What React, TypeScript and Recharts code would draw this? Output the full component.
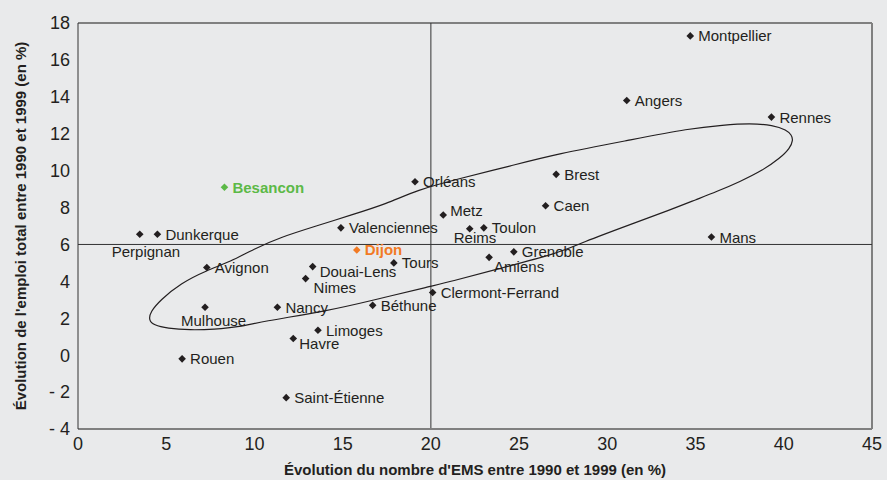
import { ScatterChart, Scatter, XAxis, YAxis, ReferenceLine } from 'recharts'

document.body.style.margin = '0'

const FONT = '"Liberation Sans", Arial, sans-serif'

// villes, croissance des EMS (x) et de l'emploi total (y), 1990-1999, en %
const cities = [
  'Montpellier', 'Angers', 'Rennes', 'Brest', 'Caen', 'Mans', 'Orléans', 'Metz', 'Toulon', 'Reims',
  'Grenoble', 'Amiens', 'Valenciennes', 'Besancon', 'Dijon', 'Tours', 'Perpignan', 'Dunkerque',
  'Avignon', 'Douai-Lens', 'Nimes', 'Clermont-Ferrand', 'Béthune', 'Nancy', 'Mulhouse', 'Limoges',
  'Havre', 'Rouen', 'Saint-Étienne',
]
const emsGrowth = [
  34.7, 31.1, 39.3, 27.1, 26.5, 35.9, 19.1, 20.7, 23.0, 22.2,
  24.7, 23.3, 14.9, 8.3, 15.8, 17.9, 3.5, 4.5,
  7.3, 13.3, 12.9, 20.1, 16.7, 11.3, 7.2, 13.6,
  12.2, 5.9, 11.8,
]
const jobGrowth = [
  17.3, 13.8, 12.9, 9.8, 8.1, 6.4, 9.4, 7.6, 6.9, 6.85,
  5.6, 5.3, 6.9, 9.1, 5.7, 5.0, 6.55, 6.55,
  4.75, 4.8, 4.15, 3.4, 2.7, 2.6, 2.6, 1.35,
  0.9, -0.2, -2.3,
]

// contour de l'ellipse
const ovalX = [
  4.01, 4.1, 4.67, 5.8, 7.32, 8.64, 9.95, 11.5, 13.5, 15.5, 17.5, 19.2, 21.66, 24.5, 27.13, 31.28,
  34.68, 36.57, 38.08, 39.4, 40.16, 40.44, 40.53, 40.35, 39.78, 38.83, 37.51, 36.19, 35.06, 33.5,
  31.5, 28.45, 27.3, 23.55, 21.1, 20.0, 16.68, 14.2, 10.33, 9.2, 7.69, 6.37, 5.05, 4.29,
]
const ovalY = [
  1.9, 2.35, 2.99, 3.89, 4.61, 5.06, 5.75, 6.4, 7.0, 7.6, 8.2, 8.95, 9.58, 10.25, 10.9, 11.66,
  12.29, 12.47, 12.56, 12.47, 12.2, 11.93, 11.66, 11.21, 10.67, 10.03, 9.4, 8.86, 8.44, 7.85,
  7.15, 6.06, 5.55, 4.61, 3.98, 3.74, 2.97, 2.41, 1.81, 1.54, 1.4, 1.36, 1.45, 1.63,
]

const xTicks = [0, 5, 10, 15, 20, 25, 30, 35, 40, 45]
const yTicks = [-4, -2, 0, 2, 4, 6, 8, 10, 12, 14, 16, 18]

const points = cities.map((name, i) => ({ name, x: emsGrowth[i], y: jobGrowth[i] }))
const oval = ovalX.map((x, i) => ({ x, y: ovalY[i] }))

const highlight: Record<string, string> = { Besancon: '#5cb947', Dijon: '#f27a24' }
const labelPos: Record<string, [number, number]> = {
  Perpignan: [-28, 17],
  Reims: [-16, 9],
  Mulhouse: [-24, 13],
  Nimes: [8, 9],
  'Douai-Lens': [7, 5],
  Havre: [6, 5],
  Amiens: [5, 9],
  Metz: [7, -4],
}

function CityMark(props: any) {
  const { cx, cy, payload } = props
  const color = highlight[payload.name] ?? '#231f20'
  const [dx, dy] = labelPos[payload.name] ?? [8, 0]
  const r = 3.8
  return (
    <g>
      <path d={`M${cx},${cy - r}L${cx + r},${cy}L${cx},${cy + r}L${cx - r},${cy}Z`} fill={color} />
      <text
        x={cx + dx}
        y={cy + dy}
        dominantBaseline="central"
        fontSize={15}
        fontFamily={FONT}
        fontWeight={highlight[payload.name] ? 'bold' : 'normal'}
        fill={color}
      >
        {payload.name}
      </text>
    </g>
  )
}

const tickStyle = { fontSize: 18, fill: '#231f20', fontFamily: FONT }
const titleStyle = { fontSize: 15, fontWeight: 'bold', fill: '#231f20', fontFamily: FONT }

export default function App() {
  return (
    <div style={{ width: 887, height: 480, background: '#e9eaeb' }}>
      <ScatterChart width={887} height={480} margin={{ top: 23, right: 15, bottom: 0, left: 0 }}>
        <XAxis
          type="number"
          dataKey="x"
          domain={[0, 45]}
          ticks={xTicks}
          height={51}
          tickLine={false}
          tick={tickStyle}
          axisLine={{ stroke: '#808080', strokeWidth: 2 }}
          label={{
            value: "Évolution du nombre d'EMS entre 1990 et 1999 (en %)",
            position: 'insideBottom',
            offset: 5,
            style: titleStyle,
          }}
        />
        <YAxis
          type="number"
          dataKey="y"
          domain={[-4, 18]}
          ticks={yTicks}
          width={78}
          tickLine={false}
          tick={tickStyle}
          tickFormatter={(v: number) => (v < 0 ? `- ${-v}` : `${v}`)}
          axisLine={{ stroke: '#333333', strokeWidth: 1 }}
          label={{
            value: "Évolution de l'emploi total entre 1990 et 1999 (en %)",
            angle: -90,
            position: 'insideLeft',
            offset: 21,
            style: { ...titleStyle, textAnchor: 'middle' },
          }}
        />
        <ReferenceLine y={18} stroke="#808080" strokeWidth={2} />
        <ReferenceLine x={45} stroke="#808080" strokeWidth={2} />
        <ReferenceLine x={20} stroke="#333333" strokeWidth={1} />
        <ReferenceLine y={6} stroke="#333333" strokeWidth={1} />
        <Scatter
          data={oval}
          line={{ stroke: '#231f20', strokeWidth: 1.2, fill: 'none' }}
          lineJointType="basisClosed"
          shape={() => <g />}
          isAnimationActive={false}
        />
        <Scatter data={points} shape={CityMark} isAnimationActive={false} />
      </ScatterChart>
    </div>
  )
}
